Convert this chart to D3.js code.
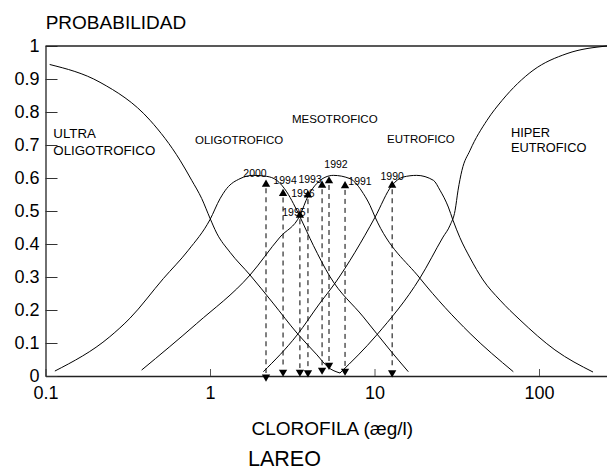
<!DOCTYPE html>
<html><head><meta charset="utf-8">
<script src="https://cdn.jsdelivr.net/npm/d3@7"></script>
<style>
body{margin:0;background:#fff}
svg{display:block}
text{font-family:"Liberation Sans",Arial,Helvetica,sans-serif;fill:#000}
</style>
</head><body>
<svg id="chart" width="607" height="471"></svg>
<script>
// ---- data ----
const xTickValues = [0.1, 1, 10, 100];
const xTickLabels = ["0.1", "1", "10", "100"];
const yTickValues = [0, 0.1, 0.2, 0.3, 0.4, 0.5, 0.6, 0.7, 0.8, 0.9, 1];
const yTickLabels = ["0", "0.1", "0.2", "0.3", "0.4", "0.5", "0.6", "0.7", "0.8", "0.9", "1"];

const ultraChl = [0.106, 0.2145, 0.432, 0.657, 0.774, 0.89, 1.0, 1.098, 1.323, 1.751, 2.415, 3.38, 4.47, 5.21, 6.17];
const ultraProb = [0.944, 0.89, 0.775, 0.654, 0.593, 0.538, 0.478, 0.433, 0.375, 0.306, 0.221, 0.13, 0.064, 0.027, 0.009];

const oligoChl = [0.114, 0.246, 0.326, 0.52, 0.738, 1.0, 1.15, 1.263, 1.522, 1.833, 2.212, 2.544, 2.927, 3.21, 3.525, 4.246, 5.363, 8.55, 12.4, 16.05];
const oligoProb = [0.015, 0.119, 0.175, 0.295, 0.381, 0.474, 0.537, 0.568, 0.598, 0.608, 0.605, 0.593, 0.558, 0.523, 0.482, 0.396, 0.301, 0.179, 0.079, 0.013];

const mesoChl = [0.384, 0.83, 1.751, 2.665, 3.525, 3.94, 4.47, 5.0, 5.62, 7.1, 8.55, 9.39, 10.07, 18.9, 38.1, 69.8];
const mesoProb = [0.018, 0.159, 0.306, 0.421, 0.487, 0.545, 0.584, 0.602, 0.608, 0.598, 0.553, 0.517, 0.482, 0.296, 0.129, 0.013];

const eutroChl = [2.11, 3.38, 4.66, 5.75, 7.61, 10.07, 12.78, 14.96, 18.05, 22.8, 25, 28.1, 30, 33, 38.1, 45.7, 57.9, 76.6, 125, 213];
const eutroProb = [0.013, 0.124, 0.221, 0.281, 0.375, 0.481, 0.578, 0.603, 0.608, 0.593, 0.563, 0.512, 0.472, 0.42, 0.358, 0.291, 0.230, 0.170, 0.079, 0.012];

const hyperChl = [6.17, 10.3, 18.9, 26.1, 28.8, 30.9, 32.2, 34.0, 38.1, 48.3, 59.6, 91.9, 148, 259];
const hyperProb = [0.009, 0.124, 0.297, 0.421, 0.457, 0.502, 0.563, 0.623, 0.684, 0.775, 0.835, 0.926, 0.977, 1.0];

const years = ["2000", "1994", "1995", "1996", "1993", "1992", "1991", "1990"];
const yearChl = [2.19, 2.78, 3.52, 3.94, 4.80, 5.29, 6.62, 12.8];
const yearProbTop = [0.581, 0.553, 0.487, 0.548, 0.578, 0.591, 0.576, 0.578];
const yearProbBottom = [-0.003, 0.012, 0.012, 0.010, 0.018, 0.033, 0.015, 0.010];

const regionNames = [["ULTRA", "OLIGOTROFICO"], ["OLIGOTROFICO"], ["MESOTROFICO"], ["EUTROFICO"], ["HIPER", "EUTROFICO"]];

// ---- layout (pixels / styles) ----
const yearLabelOffsets = [[-11, -11.5], [2, -13], [-6, -3], [-5, -2], [-12, -6], [7, -17], [15, -5], [0, -9]];
const regionLayout = [
  {x: 53.3, y: 138.3, size: 13.3, lh: 16.7},
  {x: 195, y: 144, size: 11.5, lh: 14},
  {x: 292, y: 123, size: 11.5, lh: 14},
  {x: 387, y: 143, size: 11.5, lh: 14},
  {x: 511, y: 136.7, size: 12.8, lh: 15}
];

const svg = d3.select("#chart");
const x = d3.scaleLog().domain([0.1, 259]).range([45.5, 607]);
const y = d3.scaleLinear().domain([0, 1]).range([376, 46]);

// axes
const xAxis = d3.axisBottom(x).tickValues(xTickValues)
  .tickFormat((d, i) => xTickLabels[i]).tickSizeInner(-7).tickSizeOuter(0).tickPadding(10.5);
const gx = svg.append("g").attr("transform", "translate(0,376)").call(xAxis);
gx.select(".domain").attr("stroke", "#222").attr("stroke-width", 1.3);
gx.selectAll(".tick line").attr("stroke", "#555");
gx.selectAll(".tick text").attr("font-size", 18).attr("font-family", '"Liberation Sans",Arial,sans-serif').attr("fill", "#000");

const yAxis = d3.axisLeft(y).tickValues(yTickValues)
  .tickFormat((d, i) => yTickLabels[i]).tickSizeInner(-12).tickSizeOuter(0).tickPadding(6);
const gy = svg.append("g").attr("transform", "translate(45.5,0)").call(yAxis);
gy.select(".domain").attr("stroke", "#222").attr("stroke-width", 1.3);
gy.selectAll(".tick line").attr("stroke", "#333");
gy.selectAll(".tick text").attr("font-size", 18).attr("font-family", '"Liberation Sans",Arial,sans-serif').attr("fill", "#000");

// top frame line
svg.append("line").attr("x1", x(0.1)).attr("x2", x(259)).attr("y1", y(1)).attr("y2", y(1))
  .attr("stroke", "#222").attr("stroke-width", 1.4);

// curves
const line = d3.line().x(d => x(d[0])).y(d => y(d[1])).curve(d3.curveMonotoneX);
const series = [[ultraChl, ultraProb], [oligoChl, oligoProb], [mesoChl, mesoProb], [eutroChl, eutroProb], [hyperChl, hyperProb]];
series.forEach(([cx, cp]) => {
  svg.append("path").datum(cx.map((v, i) => [v, cp[i]]))
    .attr("d", line).attr("fill", "none").attr("stroke", "#000").attr("stroke-width", 1);
});

// year markers
const tri = d3.symbol(d3.symbolTriangle, 30);
years.forEach((yr, i) => {
  const px = x(yearChl[i]);
  const pt = y(yearProbTop[i]);
  const pb = y(yearProbBottom[i]);
  svg.append("line").attr("x1", px).attr("x2", px).attr("y1", pt + 4).attr("y2", pb - 4)
    .attr("stroke", "#000").attr("stroke-width", 1).attr("stroke-dasharray", "5,4");
  svg.append("path").attr("d", tri()).attr("transform", `translate(${px},${pt})`).attr("fill", "#000");
  svg.append("path").attr("d", tri()).attr("transform", `translate(${px},${pb}) rotate(180)`).attr("fill", "#000");
  const off = yearLabelOffsets[i];
  svg.append("text").attr("x", px + off[0]).attr("y", pt + off[1] + 3.8)
    .attr("text-anchor", "middle").attr("font-size", 10.5).text(yr);
});

// region labels
regionNames.forEach((lines, i) => {
  const L = regionLayout[i];
  const t = svg.append("text").attr("font-size", L.size);
  lines.forEach((s, j) => {
    t.append("tspan").attr("x", L.x).attr("y", L.y + j * L.lh).text(s);
  });
});

// titles
svg.append("text").attr("x", 45.7).attr("y", 28.5).attr("font-size", 19).text("PROBABILIDAD");
svg.append("text").attr("x", 251.5).attr("y", 435).attr("font-size", 19).text("CLOROFILA (æg/l)");
svg.append("text").attr("x", 248).attr("y", 466).attr("font-size", 21.5).text("LAREO");
</script>
</body></html>
